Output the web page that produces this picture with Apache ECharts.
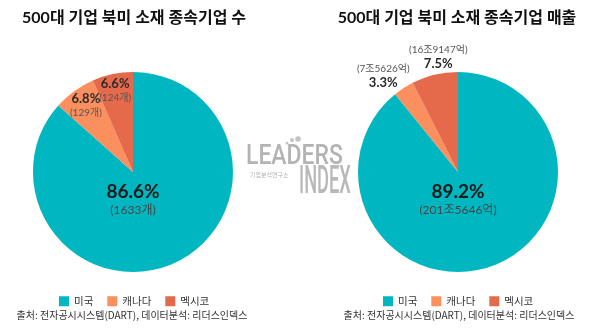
<!DOCTYPE html>
<html>
<head>
<meta charset="utf-8">
<script src="https://cdn.jsdelivr.net/npm/echarts@6/dist/echarts.min.js"></script>
<style>
  html, body { margin: 0; padding: 0; background: #ffffff; }
  #chart { width: 600px; height: 333px; }
</style>
</head>
<body>
<div id="chart"></div>
<script>
// Countries (legend / slice names)
const categories = ['미국', '캐나다', '멕시코'];
// Number of subsidiaries per country
const companyCounts = [1633, 129, 124];
// Subsidiary sales per country, in 억 원
const salesEok = [2015646, 75626, 169147];

const titles = ['500대 기업 북미 소재 종속기업 수', '500대 기업 북미 소재 종속기업 매출'];
const sourceNote = '출처: 전자공시시스템(DART), 데이터분석: 리더스인덱스';
const sliceColors = ['#00b7c1', '#fb8f5d', '#e5694b'];

const LATIN = 'Lato, "Noto Sans CJK KR", sans-serif';
const HANGUL = '"Noto Sans CJK KR", sans-serif';
const CLEAR = 'rgba(0,0,0,0)';

function percentText(values, i) {
  const total = values.reduce((a, b) => a + b, 0);
  return (values[i] / total * 100).toFixed(1) + '%';
}
const countText = v => '(' + v + '개)';
const wonText = v => '(' + Math.floor(v / 10000) + '조' + (v % 10000) + '억)';

const bigRich = {
  p: { fontFamily: LATIN, fontSize: 19, fontWeight: 'bold', color: '#1a1a1a', lineHeight: 22, align: 'center' },
  a: { fontFamily: LATIN, fontSize: 12, color: '#444', lineHeight: 15, align: 'center' }
};
const smallRich = {
  p: { fontFamily: LATIN, fontSize: 13, fontWeight: 'bold', color: '#2a2a2a', lineHeight: 15, align: 'center' },
  a: { fontFamily: LATIN, fontSize: 10, color: '#555', lineHeight: 13, align: 'center' }
};

// Visible pie: slices plus the large share label under the centre
function mainPie(values, center, amountText) {
  return {
    type: 'pie',
    center: center,
    radius: 100,
    startAngle: 90,
    clockwise: true,
    silent: true,
    animation: false,
    labelLine: { show: false },
    labelLayout: { hideOverlap: false },
    data: values.map((v, i) => ({
      name: categories[i],
      value: v,
      itemStyle: { color: sliceColors[i] },
      label: i === 0 ? {
        show: true,
        position: 'center',
        padding: [54, 0, 0, 0],
        formatter: '{p|' + percentText(values, i) + '}\n{a|' + amountText(v) + '}',
        rich: bigRich
      } : { show: false }
    }))
  };
}

// Transparent companion pie that places the small-slice labels along each slice's mid angle
function labelPie(values, center, outerRadius, textFor, paddings) {
  return {
    type: 'pie',
    center: center,
    radius: [0, outerRadius],
    startAngle: 90,
    clockwise: true,
    silent: true,
    animation: false,
    emphasis: { disabled: true },
    labelLine: { show: false },
    labelLayout: { hideOverlap: false },
    itemStyle: { color: CLEAR },
    data: values.map((v, i) => ({
      name: categories[i],
      value: v,
      itemStyle: { color: CLEAR },
      label: i === 0 ? { show: false } : {
        show: true,
        position: 'inside',
        padding: paddings[i],
        formatter: textFor(values, v, i),
        rich: smallRich
      }
    }))
  };
}

const leftCenter = [133, 172];
const rightCenter = [458, 172];

function legendAt(left) {
  return {
    left: left,
    top: 291,
    icon: 'rect',
    itemWidth: 10,
    itemHeight: 10,
    itemGap: 14,
    selectedMode: false,
    data: categories,
    textStyle: { fontFamily: HANGUL, fontSize: 10.5, color: '#333' }
  };
}

const chart = echarts.init(document.getElementById('chart'), null, { renderer: 'canvas' });
chart.setOption({
  backgroundColor: '#ffffff',
  animation: false,
  legend: [legendAt(54), legendAt(378)],
  series: [
    mainPie(companyCounts, leftCenter, countText),
    mainPie(salesEok, rightCenter, wonText),
    labelPie(companyCounts, leftCenter, 168,
      (vals, v, i) => '{p|' + percentText(vals, i) + '}\n{a|' + countText(v) + '}',
      [0, [8, 0, 0, 8], [6, 0, 0, 0]]),
    labelPie(salesEok, rightCenter, 232,
      (vals, v, i) => '{a|' + wonText(v) + '}\n{p|' + percentText(vals, i) + '}',
      [0, [9, 20, 0, 0], [2, 0, 0, 16]])
  ],
  graphic: [
    { type: 'text', x: 134, y: 18, style: { text: titles[0], textAlign: 'center', textVerticalAlign: 'middle', font: 'bold 16px ' + LATIN, fill: '#111' } },
    { type: 'text', x: 457, y: 18, style: { text: titles[1], textAlign: 'center', textVerticalAlign: 'middle', font: 'bold 16px ' + LATIN, fill: '#111' } },
    { type: 'text', x: 132, y: 315, style: { text: sourceNote, textAlign: 'center', textVerticalAlign: 'middle', font: '10px ' + HANGUL, fill: '#333' } },
    { type: 'text', x: 459, y: 315, style: { text: sourceNote, textAlign: 'center', textVerticalAlign: 'middle', font: '10px ' + HANGUL, fill: '#333' } },
    // LEADERS INDEX logo
    { type: 'text', x: 246, y: 143, scaleX: 0.82, style: { text: 'LEADERS', font: '500 28px Roboto, sans-serif', fill: '#b3b3b3' } },
    { type: 'text', x: 250, y: 172, style: { text: '기업분석연구소', font: '6px ' + HANGUL, fill: '#b3b3b3' } },
    { type: 'text', x: 299, y: 164, scaleX: 0.48, style: { text: 'INDEX', font: '500 38px Roboto, sans-serif', fill: '#b8b8b8' } },
    { type: 'circle', shape: { cx: 287, cy: 143, r: 1.5 }, style: { fill: '#c4c4c4' } },
    { type: 'circle', shape: { cx: 292, cy: 140, r: 2 }, style: { fill: '#c4c4c4' } },
    { type: 'circle', shape: { cx: 298, cy: 139, r: 2.8 }, style: { fill: '#c4c4c4' } }
  ]
});
</script>
</body>
</html>
